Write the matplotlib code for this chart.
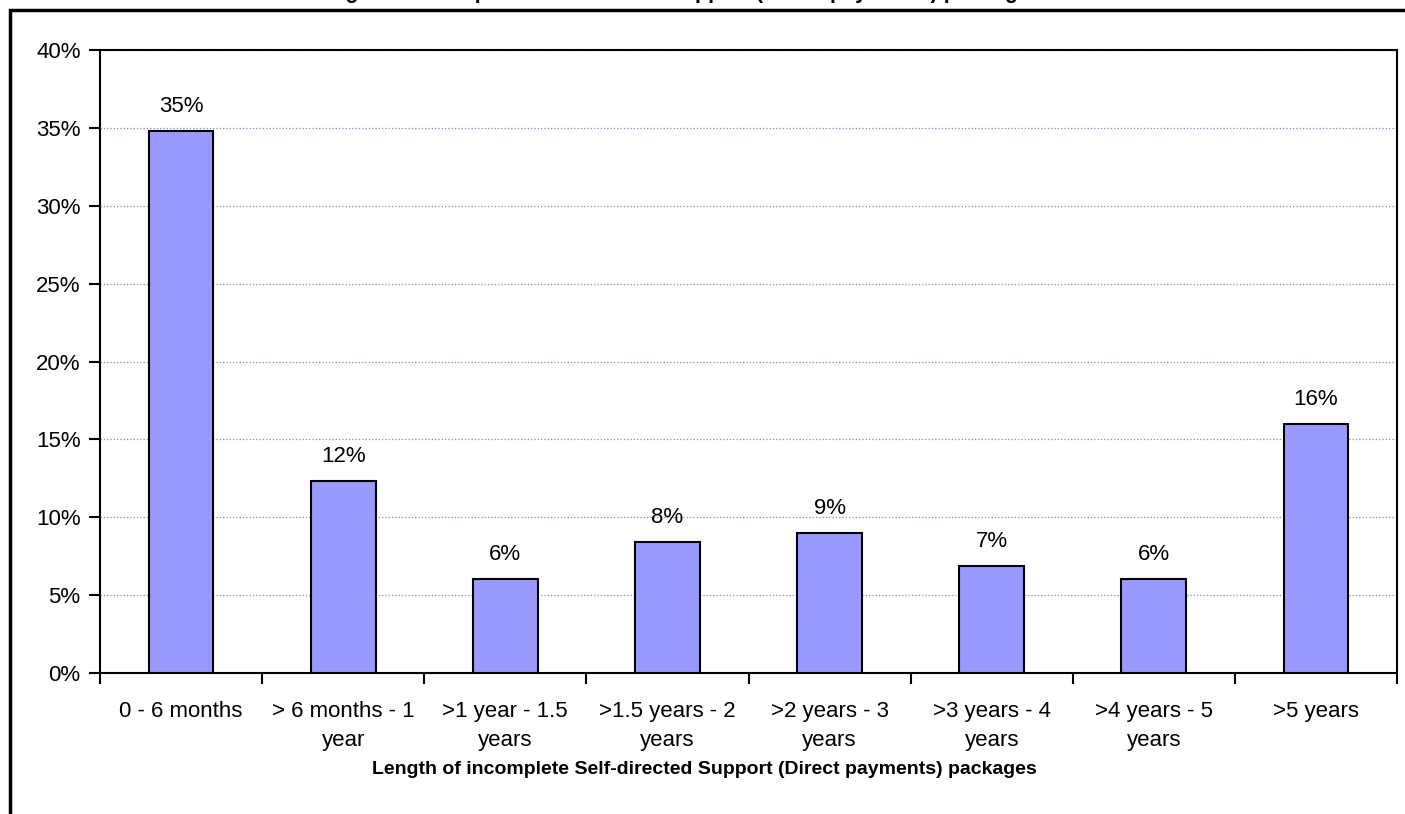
import numpy as np
import matplotlib.pyplot as plt
from matplotlib.patches import Rectangle

plt.rcParams['font.family'] = ['Liberation Sans', 'DejaVu Sans']

categories = ['0 - 6 months', '> 6 months - 1\nyear', '>1 year - 1.5\nyears',
              '>1.5 years - 2\nyears', '>2 years - 3\nyears', '>3 years - 4\nyears',
              '>4 years - 5\nyears', '>5 years']
values = [34.8, 12.3, 6.05, 8.4, 9.0, 6.9, 6.05, 16.0]
labels = ['35%', '12%', '6%', '8%', '9%', '7%', '6%', '16%']

fig = plt.figure(figsize=(14.05, 8.14), dpi=100)
ax = fig.add_axes([100/1405, (814-673)/814, 1297/1405, 623/814])

x = np.arange(len(values))
bars = ax.bar(x, values, 0.4, color='#9999ff', edgecolor='black', linewidth=1.5, zorder=3)

for bar, lab in zip(bars, labels):
    ax.text(bar.get_x() + bar.get_width()/2, bar.get_height() + 0.9, lab,
            ha='center', va='bottom', fontsize=16)

ax.set_xlim(-0.5, len(values) - 0.5)
ax.set_ylim(0, 40)
ax.set_yticks(np.arange(0, 41, 5))
ax.set_yticklabels([f'{v}%' for v in range(0, 41, 5)], fontsize=16)
ax.yaxis.grid(True, color='#8888bb', linestyle=':', linewidth=0.9, zorder=0)

ax.set_xticks(x)
ax.set_xticklabels(categories, fontsize=16, linespacing=1.5)
ax.set_xticks(np.arange(-0.5, len(values), 1), minor=True)
ax.tick_params(axis='x', which='major', length=0, pad=20)
ax.tick_params(axis='x', which='minor', length=8, width=1.5, direction='out')
ax.tick_params(axis='y', length=8, width=1.5, pad=6)

for s in ax.spines.values():
    s.set_linewidth(1.5)
    s.set_color('black')

ax.set_xlabel('Length of incomplete Self-directed Support (Direct payments) packages',
              fontsize=14, fontweight='bold', labelpad=7)
ax.xaxis.label.set_x(0.466)

# outer chart frame and title (cut off at the top edge, as in the source)
fig.patches.append(Rectangle((10/1405, -0.1), 1.2, (814-10)/814 + 0.1, transform=fig.transFigure,
                             fill=False, edgecolor='black', linewidth=2.5))
fig.text(0.48, 1.0 + 2/814, 'Length of incomplete Self-directed Support (Direct payments) packages',
         ha='center', va='baseline', fontsize=15.5, fontweight='bold')

fig.savefig('out.png', dpi=100)
